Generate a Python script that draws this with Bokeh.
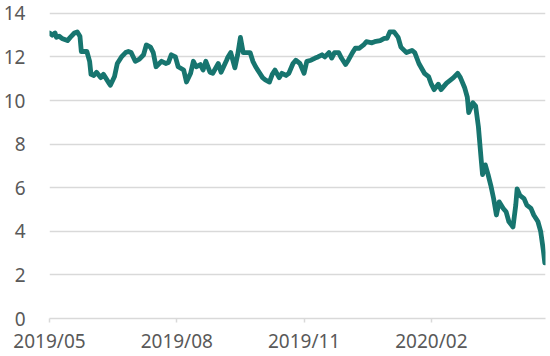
import pandas as pd
from bokeh.plotting import figure
from bokeh.models import Range1d, FixedTicker, DatetimeTickFormatter, ColumnDataSource
from bokeh.embed import file_html
from bokeh.resources import INLINE

# ---- data ----
start_date = "2019-05-01"
day_offsets = [0, 2, 4, 5, 7, 9, 13, 15, 18, 20, 22, 23, 25, 27, 29, 30, 32, 34, 37, 39,
               43, 44, 47, 49, 52, 55, 57, 59, 62, 65, 68, 70, 73, 75, 77, 81, 84, 86, 88, 91,
               93, 97, 99, 102, 104, 106, 109, 111, 113, 116, 118, 122, 124, 128, 129, 131, 134, 136, 138, 140,
               142, 145, 147, 149, 152, 154, 156, 159, 161, 163, 166, 168, 171, 173, 176, 178, 181, 184, 186, 189,
               192, 194, 197, 199, 202, 204, 206, 209, 211, 214, 216, 219, 221, 224, 227, 229, 233, 235, 239, 242,
               244, 246, 249, 252, 254, 258, 262, 264, 267, 271, 274, 276, 278, 281, 283, 287, 290, 292, 295, 297,
               300, 302, 303, 306, 308, 310, 312, 313, 315, 317, 319, 321, 323, 325, 328, 330, 332, 335, 337, 338,
               340, 343, 345, 348, 350, 353, 355, 357, 358]
values = [13.1, 13.0, 13.1, 12.9, 12.95, 12.85, 12.75, 12.9, 13.1, 13.15, 12.95, 12.25, 12.25, 12.25, 11.8, 11.2, 11.15, 11.3, 11.05, 11.2,
          10.8, 10.7, 11.1, 11.7, 12.0, 12.2, 12.25, 12.2, 11.8, 11.9, 12.1, 12.55, 12.45, 12.2, 11.55, 11.8, 11.7, 11.75, 12.1, 12.0,
          11.55, 11.4, 10.85, 11.25, 11.8, 11.55, 11.65, 11.4, 11.8, 11.3, 11.25, 11.7, 11.3, 11.85, 12.0, 12.2, 11.5, 12.1, 12.9, 12.2,
          12.2, 12.2, 11.8, 11.55, 11.25, 11.05, 10.95, 10.85, 11.2, 11.4, 11.05, 11.25, 11.15, 11.25, 11.7, 11.85, 11.7, 11.25, 11.8, 11.85,
          11.95, 12.0, 12.1, 12.0, 12.2, 11.95, 12.2, 12.2, 11.95, 11.65, 11.85, 12.2, 12.4, 12.4, 12.55, 12.7, 12.65, 12.7, 12.75, 12.85,
          12.85, 13.15, 13.15, 12.9, 12.45, 12.2, 12.3, 12.2, 11.7, 11.25, 11.1, 10.75, 10.5, 10.75, 10.5, 10.8, 10.95, 11.05, 11.25, 11.05,
          10.6, 10.15, 9.45, 9.9, 9.75, 8.8, 7.3, 6.6, 7.05, 6.6, 6.1, 5.5, 4.75, 5.35, 5.05, 4.9, 4.45, 4.2, 5.2, 5.95,
          5.65, 5.5, 5.2, 5.05, 4.75, 4.45, 4.0, 3.1, 2.55]
x_tick_dates = ["2019-05-01", "2019-08-01", "2019-11-01", "2020-02-01"]
y_ticks = [0, 2, 4, 6, 8, 10, 12, 14]

t0 = pd.Timestamp(start_date)
dates = [t0 + pd.Timedelta(days=d) for d in day_offsets]
src = ColumnDataSource(dict(date=dates, value=values))

FONT = "Noto Sans"
TXT = "#595959"
GRID = "#d9d9d9"

p = figure(width=550, height=356, x_axis_type="datetime", output_backend="svg",
           toolbar_location=None,
           x_range=Range1d(t0, t0 + pd.Timedelta(days=358.5)),
           y_range=Range1d(0, 14.59),
           min_border_left=45, min_border_right=5, min_border_top=0, min_border_bottom=35)

p.line("date", "value", source=src, line_color="#17756f", line_width=4.8,
       line_join="round", line_cap="round")

tick_ms = [pd.Timestamp(d).value // 10**6 for d in x_tick_dates]
p.xaxis.ticker = FixedTicker(ticks=tick_ms)
fmt = "%Y/%m"
p.xaxis.formatter = DatetimeTickFormatter(microseconds=fmt, milliseconds=fmt, seconds=fmt,
                                          minsec=fmt, minutes=fmt, hourmin=fmt, hours=fmt,
                                          days=fmt, months=fmt, years=fmt)
p.yaxis.ticker = FixedTicker(ticks=y_ticks)

for ax in (p.xaxis, p.yaxis):
    ax.major_label_text_font = FONT
    ax.major_label_text_font_size = "19px"
    ax.major_label_text_color = TXT
    ax.minor_tick_line_color = None

p.xaxis.axis_line_color = GRID
p.xaxis.axis_line_width = 1.5
p.xaxis.major_tick_line_color = GRID
p.xaxis.major_tick_line_width = 1.5
p.xaxis.major_tick_out = 4
p.xaxis.major_tick_in = 0
p.xaxis.major_label_standoff = 5

p.yaxis.axis_line_color = None
p.yaxis.major_tick_line_color = None
p.yaxis.major_label_standoff = 18

p.xgrid.grid_line_color = None
p.ygrid.grid_line_color = GRID
p.ygrid.grid_line_width = 1.5
p.outline_line_color = None

open("out.html", "w").write(file_html(p, INLINE))
